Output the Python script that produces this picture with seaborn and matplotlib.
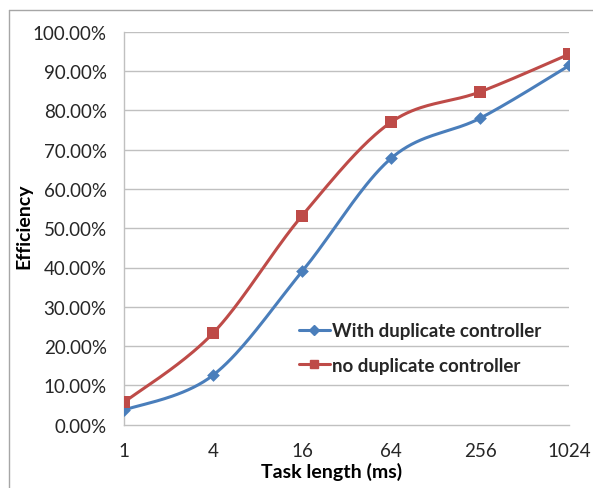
import numpy as np
import pandas as pd
import matplotlib
matplotlib.use("Agg")
import matplotlib.pyplot as plt
from matplotlib.lines import Line2D
import seaborn as sns

categories = ["1", "4", "16", "64", "256", "1024"]
with_dup = [0.037, 0.126, 0.390, 0.678, 0.780, 0.914]
no_dup = [0.057, 0.233, 0.532, 0.770, 0.847, 0.943]
series_names = ["With duplicate controller", "no duplicate controller"]
y_ticks = [0.0, 0.1, 0.2, 0.3, 0.4, 0.5, 0.6, 0.7, 0.8, 0.9, 1.0]

sns.set_theme(style="white")
plt.rcParams["font.family"] = ["Lato", "DejaVu Sans"]

BLUE = "#4A7EBB"
RED = "#BE4B48"
GRID = "#C0C0C0"
TXT = "#262626"


def excel_smooth(xs, ys, n=40):
    xs = np.asarray(xs, float)
    ys = np.asarray(ys, float)
    P = np.column_stack([xs, ys])
    out = []
    m = len(P)
    for i in range(m - 1):
        p0 = P[i - 1] if i > 0 else P[i]
        p1 = P[i]
        p2 = P[i + 1]
        p3 = P[i + 2] if i + 2 < m else P[i + 1]
        c1 = p1 + (p2 - p0) / 6.0
        c2 = p2 - (p3 - p1) / 6.0
        t = np.linspace(0, 1, n)[:, None]
        seg = ((1 - t) ** 3) * p1 + 3 * ((1 - t) ** 2) * t * c1 + 3 * (1 - t) * t ** 2 * c2 + t ** 3 * p2
        if i > 0:
            seg = seg[1:]
        out.append(seg)
    return np.vstack(out)


fig = plt.figure(figsize=(5.93, 4.89), dpi=100)
ax = fig.add_axes([124 / 593, 1 - 425.7 / 489, (569.3 - 124) / 593, (425.7 - 32.7) / 489])

xidx = np.arange(len(categories))
rows = []
for name, vals in zip(series_names, [with_dup, no_dup]):
    curve = excel_smooth(xidx, vals)
    for x, y in curve:
        rows.append({"x": x, "y": y, "series": name})
df_curve = pd.DataFrame(rows)
df_pts = pd.DataFrame({
    "x": np.concatenate([xidx, xidx]),
    "y": with_dup + no_dup,
    "series": [series_names[0]] * len(xidx) + [series_names[1]] * len(xidx),
})
palette = {series_names[0]: BLUE, series_names[1]: RED}

for yv in y_ticks[1:]:
    ax.axhline(yv, color=GRID, lw=1.0, zorder=0)

sns.lineplot(data=df_curve, x="x", y="y", hue="series", palette=palette, sort=False,
             estimator=None, lw=2.2, legend=False, ax=ax, zorder=3)
sns.scatterplot(data=df_pts[df_pts.series == series_names[0]], x="x", y="y", color=BLUE,
                marker="D", s=42, edgecolor=BLUE, linewidth=0, legend=False, ax=ax, zorder=4)
sns.scatterplot(data=df_pts[df_pts.series == series_names[1]], x="x", y="y", color=RED,
                marker="s", s=80, edgecolor=RED, linewidth=0, legend=False, ax=ax, zorder=4)

ax.set_xlim(0, len(categories) - 1)
ax.set_ylim(0, 1.0)
ax.set_xticks(xidx)
ax.set_xticklabels(categories)
ax.set_yticks(y_ticks)
ax.set_yticklabels([f"{v*100:.2f}%" for v in y_ticks])
ax.tick_params(axis="both", which="both", length=4.5, width=1, color=GRID,
               labelsize=13.5, labelcolor=TXT, direction="out")
ax.tick_params(axis="x", pad=8)
ax.tick_params(axis="y", pad=8)
for s in ["top", "right"]:
    ax.spines[s].set_visible(False)
for s in ["left", "bottom"]:
    ax.spines[s].set_color(GRID)
    ax.spines[s].set_linewidth(1.0)
ax.set_xlabel("Task length (ms)", fontsize=14, fontweight="bold", color="black")
ax.set_ylabel("Efficiency", fontsize=14, fontweight="bold", color="black")
ax.xaxis.set_label_coords((332 - 124) / (569.3 - 124), -(471.5 - 425.7) / (425.7 - 32.7))
ax.yaxis.set_label_coords(-(124 - 24) / (569.3 - 124), (425.7 - 226) / (425.7 - 32.7))
ax.xaxis.label.set_va("center")
ax.yaxis.label.set_va("center")

handles = [
    Line2D([], [], color=BLUE, lw=2.2, marker="D", markersize=5),
    Line2D([], [], color=RED, lw=2.2, marker="s", markersize=6),
]
leg = ax.legend(handles, series_names, loc="center left",
                bbox_to_anchor=(299 / 593, 1 - 349 / 489), bbox_transform=fig.transFigure,
                frameon=False, fontsize=13.5, handlelength=1.65, handletextpad=0.12,
                labelspacing=0.95, borderaxespad=0, borderpad=0)
for t in leg.get_texts():
    t.set_fontweight("bold")
    t.set_color(TXT)

fig.add_artist(Line2D([9 / 593, 9 / 593], [0, 1 - 10.7 / 489], transform=fig.transFigure,
                      color="#A6A6A6", lw=1.0))
fig.add_artist(Line2D([9 / 593, 1], [1 - 10.7 / 489, 1 - 10.7 / 489], transform=fig.transFigure,
                      color="#A6A6A6", lw=1.0))

fig.savefig("out.png", dpi=100, facecolor="white")
